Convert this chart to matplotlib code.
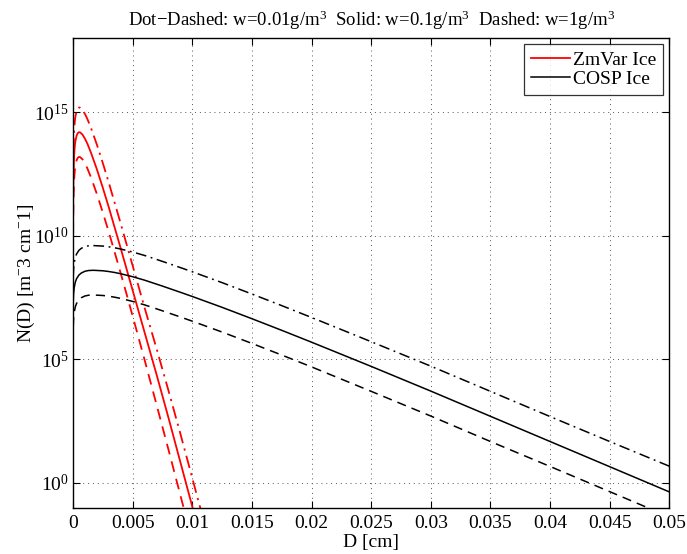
import numpy as np
import matplotlib
matplotlib.use("Agg")
import matplotlib.pyplot as plt
from matplotlib.ticker import FixedLocator, FuncFormatter, NullLocator

plt.rcParams['font.family'] = ['Liberation Serif', 'DejaVu Serif']
plt.rcParams['mathtext.fontset'] = 'custom'
plt.rcParams['mathtext.rm'] = 'Liberation Serif'
plt.rcParams['mathtext.it'] = 'Liberation Serif:italic'

# ZmVar ice size distributions (D in cm, log10 N)
zm_D = [0.000005, 0.00001, 0.00002, 0.00005, 0.0001, 0.00015, 0.0002, 0.0003,
        0.0004, 0.0005, 0.0006, 0.0008, 0.001, 0.0012, 0.0015, 0.002, 0.0025,
        0.003, 0.0035, 0.004, 0.0045, 0.005, 0.006, 0.007, 0.008, 0.009,
        0.010, 0.011]
zm_dotdash = [11.37, 12.08, 12.78, 13.68, 14.31, 14.63, 14.83, 15.06,
              15.16, 15.2, 15.19, 15.1, 14.94, 14.74, 14.38, 13.7, 12.95,
              12.16, 11.33, 10.5, 9.65, 8.8, 7.1, 5.45, 3.75, 2.0,
              0.2, -1.6]
zm_solid = [10.37, 11.08, 11.78, 12.68, 13.31, 13.63, 13.83, 14.06,
            14.16, 14.2, 14.19, 14.1, 13.94, 13.74, 13.38, 12.7, 11.95,
            11.16, 10.33, 9.5, 8.65, 7.8, 6.1, 4.4, 2.65, 0.85,
            -0.95, -2.8]
zm_dashed = [9.37, 10.08, 10.78, 11.68, 12.31, 12.63, 12.83, 13.06,
             13.16, 13.2, 13.19, 13.1, 12.94, 12.74, 12.38, 11.7, 10.95,
             10.16, 9.33, 8.49, 7.63, 6.76, 4.99, 3.18, 1.36, -0.49,
             -2.34, -4.2]

# COSP ice size distributions
cosp_D = [0.00002, 0.00005, 0.0001, 0.0002, 0.0003, 0.0005, 0.0007, 0.001,
          0.0013, 0.0017, 0.0021, 0.0025, 0.003, 0.0035, 0.004, 0.005, 0.006,
          0.0075, 0.009, 0.01, 0.0125, 0.015, 0.0175, 0.02, 0.025, 0.03,
          0.035, 0.04, 0.045, 0.05]
cosp_dotdash = [8.34, 8.67, 8.91, 9.14, 9.27, 9.42, 9.5, 9.57, 9.6, 9.61,
                9.6, 9.59, 9.56, 9.52, 9.47, 9.35, 9.21, 8.97, 8.72, 8.55,
                8.11, 7.65, 7.18, 6.7, 5.72, 4.73, 3.71, 2.69, 1.68, 0.68]
cosp_solid = [7.34, 7.67, 7.91, 8.14, 8.27, 8.42, 8.5, 8.57, 8.6, 8.61,
              8.6, 8.59, 8.56, 8.52, 8.47, 8.35, 8.21, 7.97, 7.72, 7.55,
              7.11, 6.65, 6.18, 5.7, 4.72, 3.72, 2.7, 1.68, 0.66, -0.36]
cosp_dashed = [6.34, 6.67, 6.91, 7.14, 7.27, 7.42, 7.5, 7.57, 7.6, 7.61,
               7.6, 7.59, 7.56, 7.52, 7.47, 7.35, 7.21, 6.97, 6.72, 6.55,
               6.11, 5.65, 5.18, 4.7, 3.71, 2.71, 1.68, 0.67, -0.35, -1.37]

xticks = [0, 0.005, 0.01, 0.015, 0.02, 0.025, 0.03, 0.035, 0.04, 0.045, 0.05]
xticklabels = ['0', '0.005', '0.01', '0.015', '0.02', '0.025', '0.03',
               '0.035', '0.04', '0.045', '0.05']
yticks = [1e0, 1e5, 1e10, 1e15]

fig = plt.figure(figsize=(6.87, 5.54), dpi=100)
ax = fig.add_axes([73/687, 1-507.7/554, (669.3-73)/687, (507.7-38.3)/554])

dotdash = (0, (7, 3, 1.2, 3))
dash = (0, (6, 4))

def p(v):
    return np.power(10.0, v)

ax.plot(zm_D, p(zm_solid), color='red', lw=1.3, label='ZmVar Ice')
ax.plot(zm_D, p(zm_dotdash), color='red', lw=1.3, linestyle=dotdash)
ax.plot(zm_D, p(zm_dashed), color='red', lw=1.3, linestyle=dash)
ax.plot(cosp_D, p(cosp_solid), color='black', lw=1.1, label='COSP Ice')
ax.plot(cosp_D, p(cosp_dotdash), color='black', lw=1.1, linestyle=dotdash)
ax.plot(cosp_D, p(cosp_dashed), color='black', lw=1.1, linestyle=dash)

ax.set_yscale('log')
ax.set_xlim(0, 0.05)
ax.set_ylim(1e-1, 1e18)

ax.set_xticks(xticks)
ax.set_xticklabels(xticklabels)
ax.yaxis.set_major_locator(FixedLocator(yticks))
ax.yaxis.set_major_formatter(FuncFormatter(lambda v, pos: r'$10^{%d}$' % round(np.log10(v))))
ax.yaxis.set_minor_locator(NullLocator())
ax.xaxis.set_minor_locator(NullLocator())

ax.tick_params(direction='in', top=True, right=True, labelsize=14, length=5, width=0.8)
ax.tick_params(axis='x', pad=5)
ax.tick_params(axis='y', pad=3)
ax.grid(True, linestyle=(0, (1, 4)), color='#555555', lw=0.7)
for s in ax.spines.values():
    s.set_linewidth(1.0)

ax.set_title(r'Dot$-$Dashed: w=0.01g/m$^3$  Solid: w=0.1g/m$^3$  Dashed: w=1g/m$^3$',
             fontsize=13.5, pad=9)
ax.set_xlabel('D [cm]', fontsize=14, labelpad=2)
ax.set_ylabel(r'N(D) [m$^{-}$3 cm$^{-}$1]', fontsize=14, labelpad=-2)

leg = ax.legend(loc='upper right', fontsize=14, frameon=True, fancybox=False,
                edgecolor='black', handlelength=2.0, borderaxespad=0.3,
                borderpad=0.35, labelspacing=0.1, handletextpad=0.2)
leg.get_frame().set_linewidth(0.9)

fig.savefig('out.png', dpi=100)
